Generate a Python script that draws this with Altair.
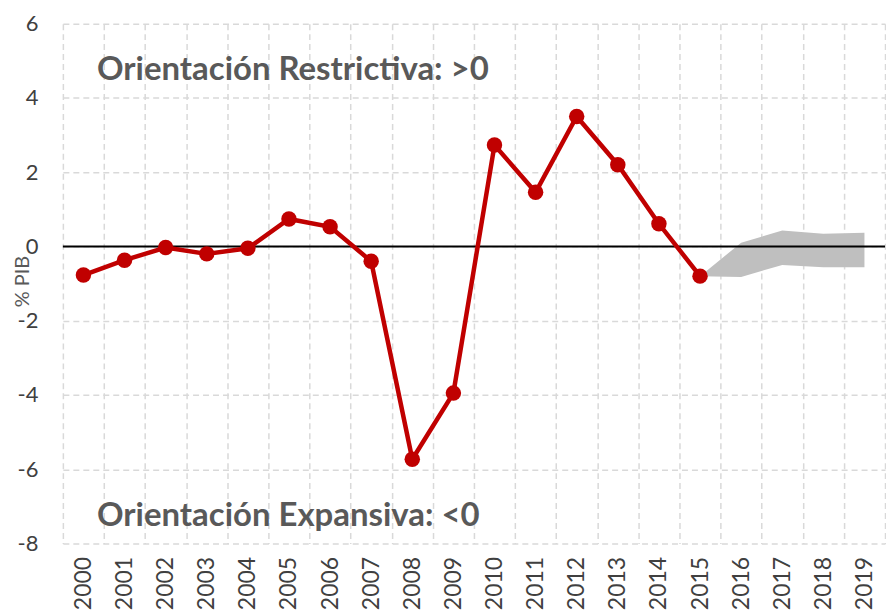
import altair as alt
import pandas as pd

years = ["2000", "2001", "2002", "2003", "2004", "2005", "2006", "2007", "2008", "2009",
         "2010", "2011", "2012", "2013", "2014", "2015", "2016", "2017", "2018", "2019"]

hist_years = years[:16]
hist_values = [-0.77, -0.37, -0.03, -0.2, -0.05, 0.74, 0.53, -0.4, -5.73, -3.95,
               2.73, 1.46, 3.5, 2.2, 0.61, -0.8]

band_years = ["2015", "2016", "2017", "2018", "2019"]
band_lower = [-0.8, -0.82, -0.5, -0.56, -0.56]
band_upper = [-0.8, 0.1, 0.43, 0.34, 0.37]

ann_years = ["2001", "2001"]
ann_values = [4.48, -7.53]
ann_texts = ["Orientación Restrictiva: >0", "Orientación Expansiva: <0"]

y_ticks = [-8, -6, -4, -2, 0, 2, 4, 6]

hist = pd.DataFrame({"year": hist_years, "value": hist_values})
band = pd.DataFrame({"year": band_years, "lo": band_lower, "hi": band_upper})
ann = pd.DataFrame({"year": ann_years, "value": ann_values, "text": ann_texts})
zero = pd.DataFrame({"value": [0]})

FONT = "Lato"

xscale = alt.Scale(type="band", domain=years, paddingInner=0, paddingOuter=0)
yscale = alt.Scale(domain=[-8, 6], nice=False, zero=False)

xaxis = alt.Axis(
    title=None, labelAngle=-90, labelFontSize=23, labelColor="#404040", labelFont=FONT,
    tickBand="extent", grid=True, gridDash=[6, 4], gridColor="#d9d9d9", gridWidth=1.5,
    domain=False, ticks=False, labelPadding=13,
)
yaxis = alt.Axis(
    title="% PIB", values=y_ticks, labelFontSize=22, labelColor="#404040", labelFont=FONT,
    labelExpr="toString(datum.value)",
    grid=True, gridDash=[6, 4], gridColor="#d9d9d9", gridWidth=1.5,
    domain=False, ticks=False, labelPadding=25,
    titleFontSize=20, titleFontWeight="normal", titleColor="#595959", titleFont=FONT,
    titleX=-40, titleY=258, titleAngle=-90, titleAlign="center", titleBaseline="middle",
)

base_x = alt.X("year:O", scale=xscale, axis=xaxis)

area = alt.Chart(band).mark_area(color="#bfbfbf", opacity=1).encode(
    x=base_x,
    y=alt.Y("lo:Q", scale=yscale, axis=yaxis),
    y2="hi:Q",
)

rule = alt.Chart(zero).mark_rule(color="black", strokeWidth=2).encode(
    y=alt.Y("value:Q", scale=yscale)
)

line = alt.Chart(hist).mark_line(color="#c00000", strokeWidth=4.5).encode(
    x=alt.X("year:O", scale=xscale),
    y=alt.Y("value:Q", scale=yscale),
)

pts = alt.Chart(hist).mark_circle(color="#c00000", size=240, opacity=1).encode(
    x=alt.X("year:O", scale=xscale),
    y=alt.Y("value:Q", scale=yscale),
)

text = alt.Chart(ann).mark_text(
    align="left", baseline="alphabetic", fontSize=33, fontWeight="bold",
    font=FONT, color="#595959", dx=-7,
).encode(
    x=alt.X("year:O", scale=xscale, bandPosition=0),
    y=alt.Y("value:Q", scale=yscale),
    text="text:N",
)

chart = alt.layer(area, rule, line, pts, text).properties(
    width=824, height=521,
    padding={"left": 5, "top": 4, "right": 0, "bottom": 0},
).configure_view(strokeWidth=0)

chart.save("out.html", embed_options={"renderer": "svg", "actions": False})
